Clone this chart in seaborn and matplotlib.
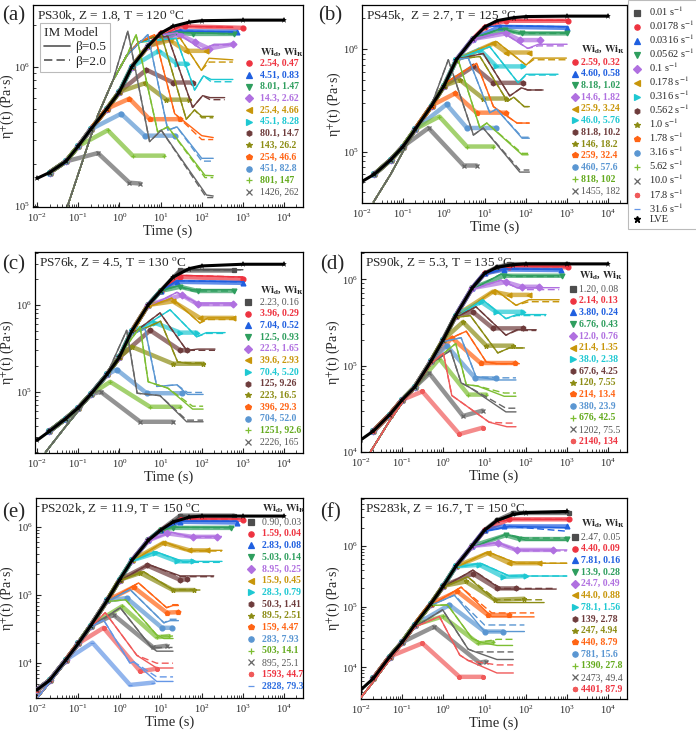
import matplotlib
matplotlib.use("Agg")
import matplotlib.pyplot as plt
from matplotlib.lines import Line2D
from matplotlib.ticker import LogLocator, NullFormatter
import seaborn as sns

# ---------------- shared legend data ----------------
RATE_LABELS = ["0.01", "0.0178", "0.0316", "0.0562", "0.1", "0.178", "0.316", "0.562",
               "1.0", "1.78", "3.16", "5.62", "10.0", "17.8", "31.6"]
COLORS = ['#4D4D4D', '#EE3340', '#1F5FE0', '#2E9E5E', '#B070E0', '#C8960A', '#1EC8D2',
          '#6E3C3C', '#8C8C14', '#FF6414', '#5A96D2', '#7DBE32', '#666666', '#F05A5A', '#6496E6']
TEXT_COLORS = ['#555555', '#EE3340', '#1F5FE0', '#2E9E5E', '#B070E0', '#C8960A', '#1EC8D2',
               '#6E3C3C', '#8C8C14', '#FF6414', '#5A96D2', '#64AA1E', '#555555', '#EE3340', '#2F6FE0']
MARKERS = ['s', 'o', '^', 'v', 'D', '<', '>', 'h', '*', 'p', 'o', '+', 'x', (8, 2, 0), '_']

LVE_T = [0.01, 0.02, 0.05, 0.1, 0.2, 0.5, 1, 2, 5, 10, 20, 50, 100, 1000, 10000]

# ---------------- panel (a) ----------------
A_TITLE = "PS30k, Z = 1.8, T = 120 $^{\\rm o}$C"
A_RATES = [1, 2, 3, 4, 5, 6, 7, 8, 9, 10, 11, 12]
A_WID = ["2.54", "4.51", "8.01", "14.3", "25.4", "45.1", "80.1", "143", "254", "451", "801", "1426"]
A_WIR = ["0.47", "0.83", "1.47", "2.62", "4.66", "8.28", "14.7", "26.2", "46.6", "82.8", "147", "262"]
A_LVE = [1.58e5, 1.74e5, 2.09e5, 2.69e5, 3.55e5, 5.0e5, 6.6e5, 1.0e6, 1.41e6, 1.74e6, 1.95e6,
         2.09e6, 2.14e6, 2.16e6, 2.16e6]
A_DATA = [
    [(40, 1.95e6), (1000, 1.9e6)],
    [(30, 1.8e6), (700, 1.78e6)],
    [(25, 1.75e6), (60, 1.72e6), (600, 1.72e6)],
    [(29, 1.7e6), (70, 1.5e6), (150, 1.35e6), (570, 1.45e6)],
    [(16.5, 1.55e6), (42, 1.3e6), (130, 1.3e6)],
    [(9, 1.3e6), (25, 1.05e6), (45, 1.05e6)],
    [(4.5, 9.5e5), (20, 7.7e5), (60, 7.7e5)],
    [(4.1, 7.6e5), (13.8, 5.8e5), (50, 5.8e5)],
    [(1.75, 5.9e5), (5.4, 4.2e5), (30, 4.2e5)],
    [(1.1, 4.6e5), (4.1, 3.2e5), (22, 3.2e5)],
    [(0.52, 3.5e5), (2.1, 2.3e5), (12, 2.3e5)],
    [(0.3, 2.4e5), (1.75, 1.47e5), (3.2, 1.45e5)],
]
A_MENV = [(0.055, 1.0e5), (0.1, 1.7e5), (0.3, 4.5e5), (0.7, 8.0e5), (1.5, 1.2e6), (3, 1.5e6),
          (6, 1.62e6), (12, 1.7e6)]
A_MODEL = [
    [(30, 1.95e6), (570, 1.92e6)],
    [(25, 1.8e6), (570, 1.78e6)],
    [(22, 1.77e6), (570, 1.72e6)],
    [(25, 1.75e6), (100, 1.33e6), (200, 1.45e6), (570, 1.45e6)],
    [(30, 1.6e6), (98, 9.4e5), (150, 1.15e6), (570, 1.12e6)],
    [(24, 1.6e6), (67, 6.8e5), (110, 8.6e5), (170, 8.1e5), (570, 8.1e5)],
    [(15, 1.65e6), (60, 5.1e5), (105, 6.2e5), (160, 6.0e5), (360, 6.0e5)],
    [(10.4, 1.7e6), (42, 4.2e5), (67, 4.9e5), (100, 4.4e5), (190, 4.4e5)],
    [(7.1, 1.7e6), (22, 4.6e5), (100, 3.2e5), (190, 3.1e5)],
    [(4.9, 1.7e6), (15, 3.5e5), (25, 3.7e5), (100, 2.2e5), (190, 2.2e5)],
    [(2.55, 1.7e6), (8.5, 3.4e5), (15, 3.7e5), (120, 1.66e5), (190, 1.65e5)],
    [(1.6, 1.8e6), (5.4, 2.9e5), (10.4, 3.5e5), (130, 1.2e5), (190, 1.18e5)],
]
A_DASH = [1.92e6, 1.78e6, 1.72e6, 1.43e6, 1.08e6, 7.8e5, 5.8e5, 4.3e5, 3.0e5, 2.1e5, 1.6e5, 1.15e5]

# ---------------- panel (b) ----------------
B_TITLE = "PS45k,  Z = 2.7, T = 125 $^{\\rm o}$C"
B_RATES = [1, 2, 3, 4, 5, 6, 7, 8, 9, 10, 11, 12]
B_WID = ["2.59", "4.60", "8.18", "14.6", "25.9", "46.0", "81.8", "146", "259", "460", "818", "1455"]
B_WIR = ["0.32", "0.58", "1.02", "1.82", "3.24", "5.76", "10.2", "18.2", "32.4", "57.6", "102", "182"]
B_LVE = [5.1e4, 6.0e4, 8.3e4, 1.12e5, 1.66e5, 2.82e5, 4.4e5, 7.9e5, 1.26e6, 1.66e6, 1.91e6,
         2.04e6, 2.09e6, 2.11e6, 2.11e6]
B_DATA = [
    [(33, 1.9e6), (1050, 1.9e6)],
    [(23, 1.66e6), (1000, 1.62e6)],
    [(30, 1.55e6), (80, 1.43e6), (1000, 1.43e6)],
    [(33, 1.43e6), (70, 1.23e6), (215, 1.23e6)],
    [(16, 1.14e6), (33, 9.3e5), (120, 9.3e5)],
    [(7.5, 9.9e5), (19, 6.8e5), (85, 6.8e5)],
    [(5.2, 6.8e5), (16, 4.7e5), (85, 4.7e5)],
    [(2.45, 5.0e5), (9, 3.3e5), (33, 3.3e5)],
    [(1.85, 3.7e5), (6.2, 2.4e5), (33, 2.4e5)],
    [(1.15, 2.9e5), (3.6, 1.7e5), (19, 1.7e5)],
    [(0.77, 2.2e5), (3.6, 1.12e5), (16, 1.12e5)],
    [(0.42, 1.7e5), (3, 7.3e4), (6.2, 7.3e4)],
]
B_MENV = [(0.019, 3.2e4), (0.05, 6.0e4), (0.1, 1.0e5), (0.2, 1.6e5), (0.5, 2.9e5), (1, 4.6e5),
          (2, 8.0e5), (5, 1.27e6), (10, 1.66e6), (20, 1.9e6)]
B_MODEL = [
    [(33, 1.92e6), (1000, 1.92e6)],
    [(25, 1.7e6), (1000, 1.66e6)],
    [(25, 1.6e6), (60, 1.45e6), (1000, 1.45e6)],
    [(28, 1.45e6), (110, 1.02e6), (200, 1.12e6), (1000, 1.12e6)],
    [(19, 1.19e6), (100, 7.0e5), (150, 8.2e5), (960, 8.2e5)],
    [(13, 1.06e6), (64, 4.7e5), (100, 5.7e5), (600, 5.7e5)],
    [(9, 9.1e5), (40, 3.5e5), (77, 4.2e5), (110, 4.0e5), (260, 4.0e5)],
    [(7.5, 8.5e5), (35, 3.1e5), (50, 3.4e5), (90, 2.75e5), (120, 2.75e5)],
    [(6.2, 7.3e5), (16, 2.75e5), (60, 1.9e5), (120, 1.9e5)],
    [(3.9, 8.2e5), (13, 2.4e5), (19, 2.6e5), (80, 1.35e5), (120, 1.35e5)],
    [(2.2, 7.9e5), (7.5, 1.7e5), (11, 1.9e5), (80, 9.3e4), (112, 9.3e4)],
    [(1.27, 7.9e5), (5.2, 1.45e5), (9, 1.7e5), (70, 6.3e4), (120, 6.3e4)],
]
B_DASH = [1.92e6, 1.66e6, 1.43e6, 1.08e6, 7.9e5, 5.6e5, 4.0e5, 2.75e5, 1.9e5, 1.38e5, 9.6e4, 6.6e4]

# ---------------- panel (c) ----------------
C_TITLE = "PS76k, Z = 4.5, T = 130 $^{\\rm o}$C"
C_RATES = [0, 1, 2, 3, 4, 5, 6, 7, 8, 9, 10, 11, 12]
C_WID = ["2.23", "3.96", "7.04", "12.5", "22.3", "39.6", "70.4", "125", "223", "396", "704", "1251", "2226"]
C_WIR = ["0.16", "0.29", "0.52", "0.93", "1.65", "2.93", "5.20", "9.26", "16.5", "29.3", "52.0", "92.6", "165"]
C_LVE = [2.75e4, 3.5e4, 4.9e4, 6.5e4, 9.3e4, 1.58e5, 2.5e5, 5.0e5, 1.0e6, 1.45e6, 2.09e6,
         2.63e6, 2.82e6, 2.95e6, 2.95e6]
C_DATA = [
    [(30, 2.5e6), (600, 2.5e6)],
    [(30, 2.1e6), (1000, 2.0e6)],
    [(25, 1.85e6), (1000, 1.8e6)],
    [(30, 1.62e6), (80, 1.45e6), (600, 1.45e6)],
    [(33, 1.3e6), (80, 1.02e6), (580, 1.02e6)],
    [(20, 1.1e6), (90, 7.1e5), (580, 7.1e5)],
    [(7.4, 6.2e5), (30, 4.8e5), (75, 4.8e5)],
    [(5.6, 5.1e5), (30, 3.0e5), (45, 3.0e5)],
    [(2.0, 3.3e5), (20, 2.1e5), (110, 2.1e5)],
    None,
    [(0.86, 1.8e5), (4.6, 9.6e4), (33, 9.6e4)],
    [(0.6, 1.3e5), (5.5, 6.7e4), (30, 6.7e4)],
    [(0.35, 1.0e5), (3.2, 4.5e4), (20, 4.5e4)],
]
C_MENV = [(0.016, 2.0e4), (0.05, 4.0e4), (0.1, 6.0e4), (0.2, 9.0e4), (0.5, 1.6e5), (1, 2.6e5),
          (2, 4.6e5), (5, 9.5e5), (10, 1.45e6), (20, 2.05e6)]
C_MODEL = [
    [(30, 2.55e6), (1000, 2.55e6)],
    [(30, 2.2e6), (1000, 2.1e6)],
    [(25, 1.9e6), (1000, 1.85e6)],
    [(25, 1.65e6), (60, 1.5e6), (580, 1.5e6)],
    [(25, 1.4e6), (80, 1.05e6), (580, 1.05e6)],
    [(18.7, 1.2e6), (90, 6.2e5), (140, 7.1e5), (580, 7.1e5)],
    [(17, 8.8e5), (75, 4.3e5), (130, 4.8e5), (370, 4.8e5)],
    [(9.7, 8.1e5), (43, 3.0e5), (80, 3.1e5), (210, 3.1e5)],
    [(10, 6.5e5), (26, 2.2e5), (50, 2.1e5), (108, 2.1e5)],
    None,
    [(4.2, 5.3e5), (8.1, 1.15e5), (25, 1.2e5), (45, 9.3e4), (108, 9.3e4)],
    [(3.2, 5.6e5), (5, 1.3e5), (15, 1.1e5), (60, 6.3e4), (108, 6.3e4)],
    [(1.5, 5.1e5), (2.7, 9.6e4), (9.7, 9.0e4), (43, 4.5e4), (108, 4.5e4)],
]
C_DASH = [2.55e6, 2.1e6, 1.85e6, 1.45e6, 1.0e6, 6.8e5, 4.7e5, 3.0e5, 2.15e5, None, 9.8e4, 6.8e4, 4.7e4]

# ---------------- panel (d) ----------------
D_TITLE = "PS90k, Z = 5.3, T = 135 $^{\\rm o}$C"
D_RATES = [0, 1, 2, 3, 4, 5, 6, 7, 8, 9, 10, 11, 12, 13]
D_WID = ["1.20", "2.14", "3.80", "6.76", "12.0", "21.4", "38.0", "67.6", "120", "214", "380", "676", "1202", "2140"]
D_WIR = ["0.08", "0.13", "0.24", "0.43", "0.76", "1.35", "2.38", "4.25", "7.55", "13.4", "23.9", "42.5", "75.5", "134"]
D_LVE = [1.38e4, 1.74e4, 2.7e4, 4.0e4, 5.6e4, 1.12e5, 2.0e5, 3.8e5, 7.9e5, 1.17e6, 1.38e6,
         1.48e6, 1.51e6, 1.51e6, 1.51e6]
D_DATA = [
    [(40, 1.5e6), (1000, 1.5e6)],
    [(40, 1.4e6), (1050, 1.38e6)],
    [(30, 1.3e6), (700, 1.28e6)],
    [(30, 1.1e6), (750, 1.1e6)],
    [(33, 9.3e5), (80, 8.2e5), (215, 8.2e5)],
    [(16, 7.2e5), (40, 6.6e5), (120, 6.6e5)],
    [(8.2, 5.5e5), (19, 4.2e5), (85, 4.2e5)],
    [(5.2, 4.2e5), (16, 2.7e5), (85, 2.7e5)],
    [(3.0, 3.2e5), (11, 1.7e5), (48, 1.7e5)],
    [(1.6, 2.1e5), (8, 1.07e5), (55, 1.07e5)],
    [(1.2, 1.7e5), (6, 7.1e4), (19, 7.1e4)],
    [(0.8, 1.2e5), (4, 4.6e4), (11, 4.6e4)],
    [(0.46, 8.1e4), (3, 2.6e4), (9, 3.0e4)],
    [(0.31, 5.0e4), (2.45, 1.6e4), (9, 1.9e4)],
]
D_MENV = [(0.017, 1.0e4), (0.05, 2.3e4), (0.1, 3.7e4), (0.2, 5.5e4), (0.5, 1.05e5), (1, 1.9e5),
          (2, 3.6e5), (5, 7.6e5), (10, 1.15e6), (20, 1.4e6)]
D_MODEL = [
    [(40, 1.52e6), (1000, 1.5e6)],
    [(40, 1.42e6), (1000, 1.4e6)],
    [(30, 1.32e6), (700, 1.3e6)],
    [(25, 1.15e6), (50, 1.1e6), (650, 1.1e6)],
    [(25, 9.8e5), (60, 8.0e5), (100, 8.0e5), (650, 8.0e5)],
    [(18, 7.6e5), (58, 5.0e5), (120, 5.8e5), (650, 5.8e5)],
    [(9, 5.8e5), (33, 3.5e5), (60, 3.9e5), (310, 3.9e5)],
    [(6.2, 4.8e5), (33, 2.25e5), (60, 2.6e5), (180, 2.6e5)],
    [(4.5, 3.8e5), (21, 1.4e5), (40, 1.6e5), (93, 1.6e5)],
    [(3.6, 2.5e5), (11, 1.1e5), (20, 1.05e5), (70, 1.05e5)],
    [(2.7, 2.1e5), (6.2, 7.4e4), (20, 6.8e4), (58, 6.8e4)],
    [(2.0, 1.8e5), (3.6, 6.0e4), (6.7, 5.8e4), (30, 4.4e4), (58, 4.4e4)],
    [(1.5, 1.5e5), (2.7, 6.3e4), (4.3, 5.6e4), (33, 2.9e4), (58, 2.9e4)],
    [(1.0, 1.4e5), (1.6, 4.5e4), (13, 2.2e4), (35, 1.95e4), (58, 1.95e4)],
]
D_DASH = [1.5e6, 1.4e6, 1.3e6, 1.08e6, 7.6e5, 5.5e5, 3.8e5, 2.55e5, 1.6e5, 1.05e5, 7.2e4, 4.8e4, 3.2e4, 2.15e4]

# ---------------- panel (e) ----------------
E_TITLE = "PS202k, Z = 11.9, T = 150 $^{\\rm o}$C"
E_RATES = [0, 1, 2, 3, 4, 5, 6, 7, 8, 9, 10, 11, 12, 13, 14]
E_WID = ["0.90", "1.59", "2.83", "5.03", "8.95", "15.9", "28.3", "50.3", "89.5", "159", "283", "503", "895", "1593", "2828"]
E_WIR = ["0.03", "0.04", "0.08", "0.14", "0.25", "0.45", "0.79", "1.41", "2.51", "4.47", "7.93", "14.1", "25.1", "44.7", "79.3"]
E_LVE = [4.1e3, 5.6e3, 1.12e4, 1.95e4, 3.55e4, 8.3e4, 1.66e5, 3.2e5, 6.3e5, 8.9e5, 1.17e6,
         1.38e6, 1.43e6, 1.43e6, 1.43e6]
E_DATA = [
    [(30, 1.45e6), (600, 1.45e6)],
    [(30, 1.28e6), (1000, 1.26e6)],
    [(30, 1.18e6), (700, 1.15e6)],
    [(20, 9.6e5), (500, 9.6e5)],
    [(14, 8.0e5), (60, 7.1e5), (235, 7.1e5)],
    [(11.7, 5.8e5), (50, 4.5e5), (135, 4.5e5)],
    [(7.4, 4.1e5), (25, 3.1e5), (60, 3.1e5)],
    [(4.7, 2.7e5), (30, 1.66e5), (44, 1.7e5)],
    [(3.2, 2.1e5), (20, 1.18e5), (63, 1.18e5)],
    [(2.2, 1.3e5), (14, 5.5e4), (27, 5.6e4)],
    [(1.5, 9.0e4), (10.8, 3.3e4), (19, 3.3e4)],
    [(1.15, 6.8e4), (8, 2.4e4), (16, 2.5e4)],
    [(0.72, 5.1e4), (6.6, 1.7e4), (14, 1.8e4)],
    [(0.41, 3.3e4), (3.2, 7.6e3), (8, 8.3e3)],
    [(0.22, 2.0e4), (1.8, 4.8e3), (6.6, 5.2e3)],
]
E_MENV = [(0.0105, 3.2e3), (0.02, 5.2e3), (0.05, 1.05e4), (0.1, 1.85e4), (0.2, 3.4e4), (0.5, 8.0e4),
          (1, 1.6e5), (2, 3.1e5), (5, 6.2e5), (10, 8.8e5), (20, 1.16e6)]
E_MODEL = [
    [(30, 1.43e6), (1000, 1.43e6)],
    [(30, 1.3e6), (1000, 1.3e6)],
    [(30, 1.2e6), (700, 1.2e6)],
    [(20, 9.8e5), (600, 9.8e5)],
    [(18, 8.3e5), (50, 7.2e5), (300, 7.2e5)],
    [(12, 6.0e5), (45, 4.5e5), (310, 4.5e5)],
    [(7.5, 4.3e5), (35, 3.1e5), (310, 3.1e5)],
    [(5, 2.8e5), (30, 1.9e5), (195, 1.9e5)],
    [(3.8, 2.2e5), (20, 1.18e5), (90, 1.18e5)],
    [(2.9, 1.5e5), (14, 6.5e4), (20, 7.0e4), (27, 7.0e4)],
    [(1.8, 1.2e5), (12, 3.9e4), (17, 4.2e4), (27, 4.2e4)],
    [(1.4, 8.5e4), (8, 2.6e4), (12, 2.3e4), (20, 2.3e4)],
    [(1.04, 6.5e4), (6, 1.7e4), (8, 1.5e4), (20, 1.5e4)],
    [(0.45, 5.5e4), (2.65, 1.3e4), (8, 8.5e3), (20, 8.5e3)],
    [(0.41, 4.3e4), (1.8, 1.0e4), (2.2, 1.05e4), (8, 5.4e3), (20, 5.4e3)],
]
E_DASH = [1.43e6, 1.3e6, 1.2e6, 9.6e5, 7.0e5, 4.4e5, 3.0e5, 1.85e5, 1.2e5, 7.2e4, 4.4e4, 2.5e4, 1.7e4, 1.0e4, 6.3e3]

# ---------------- panel (f) ----------------
F_TITLE = "PS283k, Z = 16.7, T = 150 $^{\\rm o}$C"
F_RATES = [0, 1, 2, 3, 4, 5, 6, 7, 8, 9, 10, 11, 12, 13]
F_WID = ["2.47", "4.40", "7.81", "13.9", "24.7", "44.0", "78.1", "139", "247", "440", "781", "1390", "2473", "4401"]
F_WIR = ["0.05", "0.09", "0.16", "0.28", "0.49", "0.88", "1.56", "2.78", "4.94", "8.79", "15.6", "27.8", "49.4", "87.9"]
F_LVE = [4.3e3, 6.6e3, 1.51e4, 2.6e4, 5.0e4, 1.12e5, 2.2e5, 4.6e5, 1.0e6, 1.82e6, 2.63e6,
         3.3e6, 3.55e6, 3.7e6]
F_DATA = [
    [(50, 3.5e6), (1150, 3.5e6)],
    [(40, 2.75e6), (1150, 2.75e6)],
    [(30, 2.1e6), (1000, 2.1e6)],
    [(33, 1.5e6), (70, 1.3e6), (1000, 1.3e6)],
    [(21, 1.1e6), (60, 8.6e5), (450, 8.6e5)],
    [(12, 7.6e5), (40, 5.2e5), (215, 5.2e5)],
    [(7.5, 4.9e5), (28, 3.1e5), (100, 3.2e5)],
    [(5.2, 3.5e5), (20, 2.0e5), (58, 2.0e5)],
    [(3.5, 2.6e5), (18, 1.3e5), (90, 1.35e5)],
    [(2.2, 1.78e5), (12, 7.3e4), (40, 7.3e4)],
    [(1.4, 1.07e5), (10, 3.9e4), (28, 3.9e4)],
    [(0.96, 6.9e4), (7, 2.5e4), (16, 2.6e4)],
    [(0.6, 4.7e4), (7.5, 1.2e4), (11, 1.25e4)],
    [(0.31, 2.5e4), (2.45, 7.0e3), (9, 7.0e3)],
]
F_MENV = [(0.01, 3.2e3), (0.02, 5.8e3), (0.05, 1.35e4), (0.1, 2.4e4), (0.2, 4.6e4), (0.5, 1.05e5),
          (1, 2.1e5), (2, 4.4e5), (5, 9.5e5), (10, 1.75e6), (20, 2.5e6), (50, 3.2e6)]
F_MODEL = [
    [(60, 3.5e6), (1000, 3.5e6)],
    [(50, 2.75e6), (1000, 2.75e6)],
    [(40, 2.1e6), (1000, 2.0e6)],
    [(33, 1.55e6), (100, 1.25e6), (1000, 1.25e6)],
    [(21, 1.15e6), (60, 8.6e5), (1000, 8.6e5)],
    [(12, 8.0e5), (60, 5.2e5), (1000, 5.2e5)],
    [(8, 5.2e5), (40, 3.2e5), (1000, 3.2e5)],
    [(5.2, 4.0e5), (25, 1.95e5), (550, 1.95e5)],
    [(3.9, 3.1e5), (20, 1.17e5), (280, 1.17e5)],
    [(2.7, 2.1e5), (15, 6.8e4), (160, 6.8e4)],
    [(1.85, 1.55e5), (10, 3.9e4), (93, 3.9e4)],
    [(1.27, 1.07e5), (5, 3.0e4), (8, 2.6e4), (20, 2.3e4), (48, 2.3e4)],
    [(0.96, 8.9e4), (4, 2.0e4), (6, 1.8e4), (20, 1.35e4), (50, 1.35e4)],
    [(0.8, 6.9e4), (2.5, 1.6e4), (4, 1.3e4), (20, 8.1e3), (50, 8.1e3)],
]
F_DASH = [3.5e6, 2.75e6, 1.75e6, 1.35e6, 8.3e5, 5.2e5, 3.2e5, 2.0e5, 1.3e5, 7.9e4, 5.0e4, 2.9e4, 1.8e4, 1.1e4]

# ---------------- layout options ----------------
PANELS = [
    dict(tag="(a)", title=A_TITLE, rates=A_RATES, wid=A_WID, wir=A_WIR, lve=A_LVE, data=A_DATA,
         menv=A_MENV, model=A_MODEL, dash=A_DASH, dstart=0.02,
         rect=[33, 5, 303, 207], xlo=-2.1, ylim=(4.993, 6.443), leg=(0.80, 0.84, 0.765, 0.712, 0.058),
         label_xy=(2, 16), ylab=-0.064),
    dict(tag="(b)", title=B_TITLE, rates=B_RATES, wid=B_WID, wir=B_WIR, lve=B_LVE, data=B_DATA,
         menv=B_MENV, model=B_MODEL, dash=B_DASH, dstart=0.02,
         rect=[362, 5, 627, 203], xlo=-2.0, ylim=(4.497, 6.433), leg=(0.804, 0.826, 0.78, 0.712, 0.059),
         label_xy=(318, 16), ylab=-0.072),
    dict(tag="(c)", title=C_TITLE, rates=C_RATES, wid=C_WID, wir=C_WIR, lve=C_LVE, data=C_DATA,
         menv=C_MENV, model=C_MODEL, dash=C_DASH, dstart=0.02,
         rect=[35, 252, 303, 453], xlo=-2.05, ylim=(4.293, 6.611), leg=(0.795, 0.84, 0.81, 0.751, 0.058),
         label_xy=(2, 265), ylab=-0.07),
    dict(tag="(d)", title=D_TITLE, rates=D_RATES, wid=D_WID, wir=D_WIR, lve=D_LVE, data=D_DATA,
         menv=D_MENV, model=D_MODEL, dash=D_DASH, dstart=0.02,
         rect=[361, 252, 627, 452], xlo=-2.0, ylim=(3.997, 6.317), leg=(0.797, 0.82, 0.885, 0.815, 0.0585),
         label_xy=(320, 265), ylab=-0.072),
    dict(tag="(e)", title=E_TITLE, rates=E_RATES, wid=E_WID, wir=E_WIR, lve=E_LVE, data=E_DATA,
         menv=E_MENV, model=E_MODEL, dash=E_DASH, dstart=0.01,
         rect=[36, 498, 303, 698], xlo=-2.03, ylim=(3.49, 6.42), leg=(0.805, 0.846, 0.95, 0.88, 0.0585),
         label_xy=(2, 513), ylab=-0.075),
    dict(tag="(f)", title=F_TITLE, rates=F_RATES, wid=F_WID, wir=F_WIR, lve=F_LVE, data=F_DATA,
         menv=F_MENV, model=F_MODEL, dash=F_DASH, dstart=0.02,
         rect=[361, 498, 627, 699], xlo=-2.0, ylim=(3.48, 6.79), leg=(0.805, 0.827, 0.875, 0.806, 0.0582),
         label_xy=(320, 513), ylab=-0.072),
]

W, H = 696, 735
sns.set_theme(style="ticks")
plt.rcParams['font.family'] = ['Liberation Serif', 'DejaVu Serif']
plt.rcParams['mathtext.fontset'] = 'stix'
plt.rcParams['axes.linewidth'] = 0.9
plt.rcParams['axes.edgecolor'] = 'black'

fig = plt.figure(figsize=(W / 100, H / 100), dpi=100)


def line(ax, pts, color, **kw):
    tt = [p[0] for p in pts]
    ee = [p[1] for p in pts]
    sns.lineplot(x=tt, y=ee, ax=ax, color=color, sort=False, estimator=None, legend=False, **kw)
    return tt, ee


for P in PANELS:
    l, t, r, b = P['rect']
    ax = fig.add_axes([l / W, 1 - b / H, (r - l) / W, (b - t) / H])
    ax.set_xscale('log')
    ax.set_yscale('log')
    lve_t = LVE_T[:len(P['lve'])]

    for k, ri in enumerate(P['rates']):
        c = COLORS[ri]
        pts = P['data'][k]
        if pts is not None:
            pk_t, pk_e = pts[0]
            rise = [(tv, ev) for tv, ev in zip(lve_t, P['lve'])
                    if tv >= P['dstart'] and tv < 0.6 * pk_t and ev < 0.95 * pk_e]
            cur = rise + pts
            tt, ee = line(ax, cur, c, lw=3.2, alpha=0.7, zorder=2)
            ax.plot(tt, ee, ls='none', marker=MARKERS[ri], ms=3.5, color=c, mec=c,
                    mew=0.9, zorder=3)
        mp = P['model'][k]
        if mp is not None:
            pk_t, pk_e = mp[0]
            rise = [(tv, ev) for tv, ev in P['menv'] if tv < 0.6 * pk_t and ev < pk_e]
            solid = rise + mp
            line(ax, solid, c, lw=1.0, zorder=4)
            dv = P['dash'][k]
            nrep = 2 if len(mp) >= 3 else 1
            dashed = solid[:-nrep] + [(p[0], dv) for p in solid[-nrep:]]
            line(ax, dashed, c, lw=1.0, ls=(0, (5, 2.5)), zorder=4)

    # LVE
    line(ax, list(zip(lve_t, P['lve'])), 'black', lw=2.2, zorder=6,
         marker='*', markersize=4.5, markeredgewidth=0)

    ax.set_xlim(10 ** P['xlo'], 10 ** 4.46)
    ax.set_ylim(10 ** P['ylim'][0], 10 ** P['ylim'][1])
    ax.xaxis.set_major_locator(LogLocator(base=10, numticks=12))
    ax.xaxis.set_minor_locator(LogLocator(base=10, subs=range(2, 10), numticks=50))
    ax.yaxis.set_major_locator(LogLocator(base=10, numticks=12))
    ax.yaxis.set_minor_locator(LogLocator(base=10, subs=range(2, 10), numticks=50))
    ax.xaxis.set_minor_formatter(NullFormatter())
    ax.yaxis.set_minor_formatter(NullFormatter())
    ax.tick_params(which='both', direction='in', labelsize=7.5, pad=2.5)
    ax.tick_params(axis='x', which='both', pad=3.5)
    ax.tick_params(which='major', length=3.5, width=0.8)
    ax.tick_params(which='minor', length=2, width=0.6)
    for s in ax.spines.values():
        s.set_visible(True)
        s.set_color('black')
    ax.set_xlabel("Time (s)", fontsize=10.5, labelpad=0.5)
    ax.set_ylabel("η$^{+}$(t) (Pa·s)", fontsize=10)
    ax.yaxis.set_label_coords(P['ylab'], 0.5)
    ax.grid(False)

    ax.text(0.015, 0.985, P['title'], transform=ax.transAxes, ha='left', va='top', fontsize=9.5)

    mx, tx, hy, y0, dy = P['leg']
    ax.text(tx, hy, r"$\mathbf{Wi}_{\mathbf{d}}$, $\mathbf{Wi}_{\mathbf{R}}$", transform=ax.transAxes,
            ha='left', va='center', fontsize=7.5, fontweight='bold', zorder=10)
    for k, ri in enumerate(P['rates']):
        y = y0 - k * dy
        ax.plot([mx], [y], transform=ax.transAxes, ls='none', marker=MARKERS[ri], ms=3.8,
                color=COLORS[ri], mec=COLORS[ri], mew=0.9, clip_on=False, zorder=10)
        bold = ri not in (0, 12)
        ax.text(tx, y, f"{P['wid'][k]}, {P['wir'][k]}", transform=ax.transAxes, ha='left',
                va='center', fontsize=7, color=TEXT_COLORS[ri],
                fontweight='bold' if bold else 'normal', zorder=10)

    fig.text(P['label_xy'][0] / W, 1 - P['label_xy'][1] / H, P['tag'], ha='left', va='center',
             fontsize=15)

    if P['tag'] == "(a)":
        hnd = [Line2D([], [], color='#555555', lw=1.2),
               Line2D([], [], color='#555555', lw=1.2, ls=(0, (5, 2.5)))]
        leg = ax.legend(hnd, ["β=0.5", "β=2.0"], title="IM Model", loc='upper left',
                        bbox_to_anchor=(0.025, 0.91), fontsize=9.5, title_fontsize=9.5,
                        frameon=True, fancybox=False, edgecolor='#AAAAAA', handlelength=2.0,
                        borderpad=0.3, labelspacing=0.15, handletextpad=0.4, borderaxespad=0)
        leg._legend_box.align = "left"
        leg.get_frame().set_linewidth(0.8)

# big rate legend
handles = [Line2D([], [], ls='none', marker=MARKERS[i], color=COLORS[i], mec=COLORS[i], ms=3.8, mew=0.9)
           for i in range(len(RATE_LABELS))]
labels = [f"{r} s$^{{-1}}$" for r in RATE_LABELS]
handles.append(Line2D([], [], ls='none', marker='*', color='black', ms=4.5))
labels.append("LVE")
lg = fig.legend(handles, labels, loc='upper left', bbox_to_anchor=(628 / W, 1.0), fontsize=7.5,
                frameon=True, fancybox=False, edgecolor='#AAAAAA', handlelength=0.8,
                handletextpad=0.8, labelspacing=0.04, borderpad=0.45, borderaxespad=0)
lg.get_frame().set_linewidth(0.8)

fig.savefig("out.png", dpi=100)
